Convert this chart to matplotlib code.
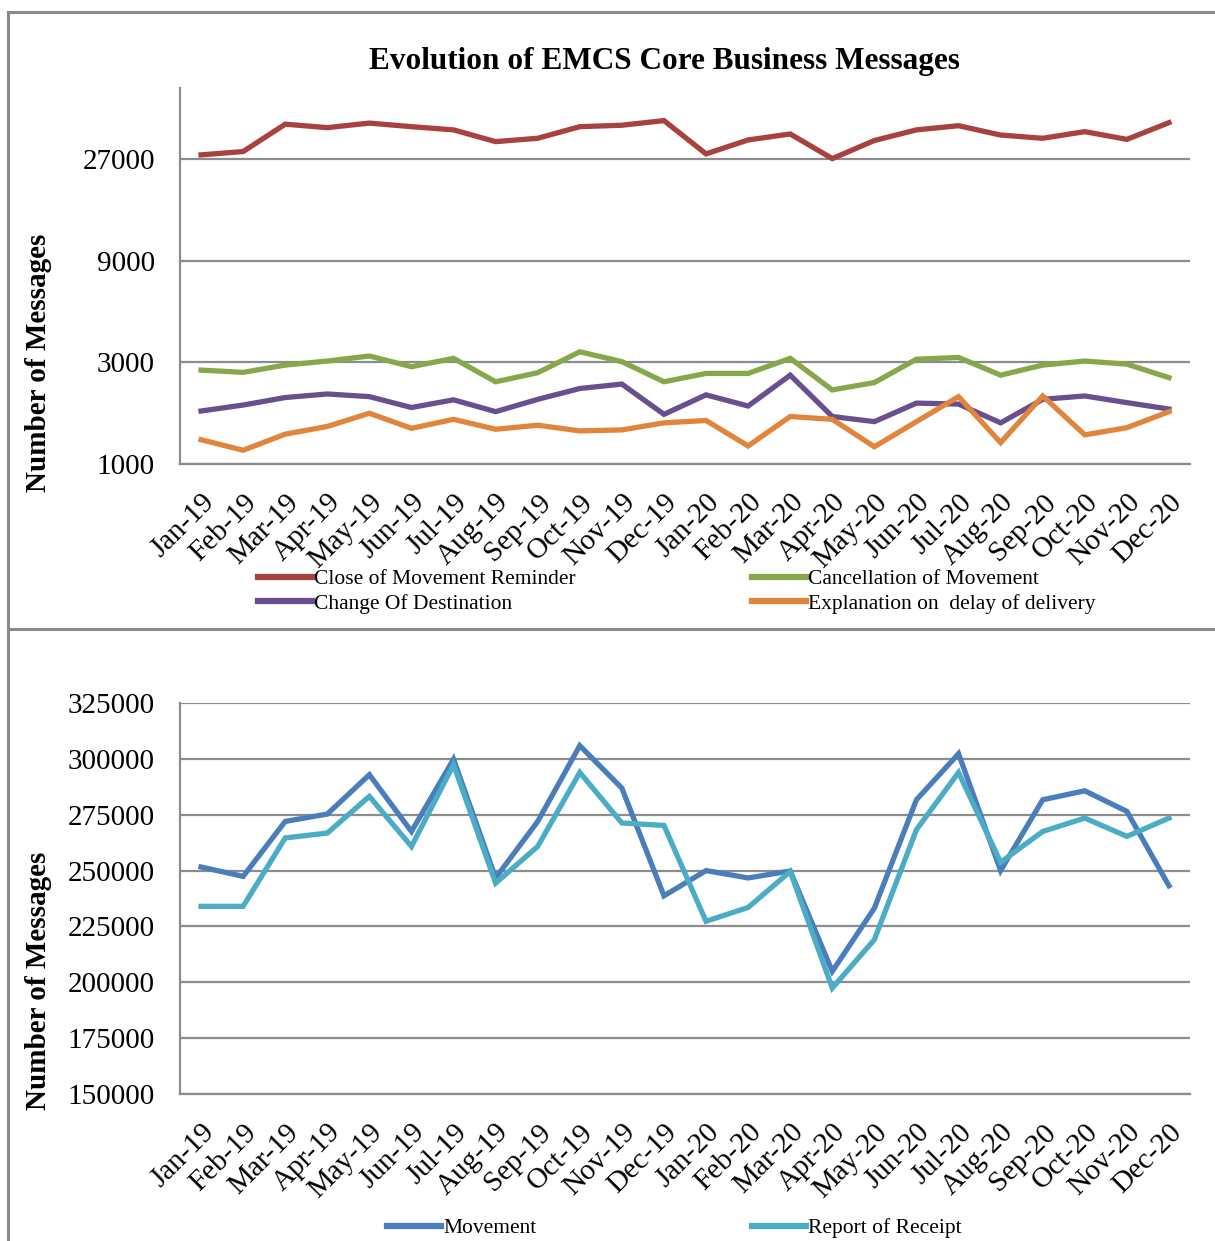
import matplotlib
matplotlib.use("Agg")
import matplotlib.pyplot as plt
from matplotlib.lines import Line2D
from matplotlib.ticker import FixedLocator, FixedFormatter, NullLocator

plt.rcParams['font.family'] = ['Liberation Serif', 'DejaVu Serif']

months = ["Jan-19", "Feb-19", "Mar-19", "Apr-19", "May-19", "Jun-19", "Jul-19", "Aug-19",
          "Sep-19", "Oct-19", "Nov-19", "Dec-19", "Jan-20", "Feb-20", "Mar-20", "Apr-20",
          "May-20", "Jun-20", "Jul-20", "Aug-20", "Sep-20", "Oct-20", "Nov-20", "Dec-20"]

close_reminder = [28170, 29200, 39240, 37800, 39700, 38200, 36900, 32500, 33700, 38200, 38800, 40800,
                  28470, 33100, 35300, 27060, 32900, 36900, 38600, 34900, 33700, 36200, 33300, 39900]
cancellation = [2757, 2690, 2910, 3040, 3210, 2860, 3130, 2430, 2680, 3360, 3020, 2430,
                2660, 2660, 3130, 2225, 2410, 3100, 3160, 2610, 2910, 3040, 2940, 2540]
change_dest = [1772, 1890, 2050, 2130, 2070, 1840, 2000, 1760, 2010, 2260, 2370, 1710,
               2110, 1870, 2610, 1670, 1580, 1930, 1910, 1560, 2010, 2085, 1940, 1810]
explanation = [1300, 1160, 1380, 1500, 1730, 1470, 1620, 1455, 1520, 1430, 1445, 1560,
               1600, 1215, 1670, 1620, 1205, 1580, 2070, 1260, 2085, 1370, 1480, 1760]

movement = [251600, 247400, 272000, 275300, 292900, 267500, 299800, 246700, 272000, 305900, 286900, 238700,
            250000, 246700, 249800, 204900, 233200, 281700, 302300, 250000, 281700, 285700, 276500, 243200]
report_receipt = [234000, 234000, 264600, 266800, 283200, 260800, 297400, 244400, 260800, 293900, 271300, 270200,
                  227300, 233500, 249600, 197400, 219100, 268300, 293900, 253700, 267500, 273500, 265300, 273500]

top_ticks = [1000, 3000, 9000, 27000]
top_tick_labels = ["1000", "3000", "9000", "27000"]
bottom_ticks = [150000, 175000, 200000, 225000, 250000, 275000, 300000, 325000]
bottom_tick_labels = [str(v) for v in bottom_ticks]

W, H = 1215, 1241
fig = plt.figure(figsize=(W / 100, H / 100), dpi=100)
fig.patch.set_facecolor("white")

GRID = "#8C8C8C"
TICK_FS = 21
XTICK_FS = 21
LEG_FS = 15.5

def px_axes(left, top, right, bottom):
    return fig.add_axes([left / W, 1 - bottom / H, (right - left) / W, (bottom - top) / H])

def style(ax):
    for s in ["top", "right"]:
        ax.spines[s].set_visible(False)
    for s in ["left", "bottom"]:
        ax.spines[s].set_color(GRID)
        ax.spines[s].set_linewidth(1.6)
    ax.grid(axis="y", color=GRID, linewidth=1.6)
    ax.set_axisbelow(True)
    ax.set_xlim(-0.5, len(months) - 0.5)
    ax.set_xticks(range(len(months)))
    ax.set_xticklabels(months, rotation=45, ha="right", va="top", rotation_mode="anchor",
                       fontsize=XTICK_FS)
    ax.tick_params(axis="x", length=0, pad=18)
    ax.tick_params(axis="y", length=0, pad=18, labelsize=TICK_FS)

# ---------- top chart ----------
ax1 = px_axes(180, 88, 1190, 464)
ax1.set_yscale("log", base=3)
ax1.set_ylim(1000, 58000)
ax1.yaxis.set_major_locator(FixedLocator(top_ticks))
ax1.yaxis.set_major_formatter(FixedFormatter(top_tick_labels))
ax1.yaxis.set_minor_locator(NullLocator())
style(ax1)
x = range(len(months))
lw = 3.8
c_red, c_green, c_purple, c_orange = "#A8423F", "#86A84A", "#6A4F8F", "#E0853B"
ax1.plot(x, close_reminder, color=c_red, lw=lw, solid_joinstyle="miter")
ax1.plot(x, cancellation, color=c_green, lw=lw, solid_joinstyle="miter")
ax1.plot(x, change_dest, color=c_purple, lw=lw, solid_joinstyle="miter")
ax1.plot(x, explanation, color=c_orange, lw=lw, solid_joinstyle="miter")

# ---------- bottom chart ----------
ax2 = px_axes(180, 703, 1190, 1094)
ax2.set_ylim(150000, 325000)
ax2.set_yticks(bottom_ticks)
ax2.set_yticklabels(bottom_tick_labels)
style(ax2)
c_blue, c_cyan = "#4A7EBB", "#4BACC6"
ax2.plot(x, movement, color=c_blue, lw=lw, solid_joinstyle="miter")
ax2.plot(x, report_receipt, color=c_cyan, lw=lw, solid_joinstyle="miter")

# ---------- text ----------
fig.text(664 / W, 1 - 61 / H, "Evolution of EMCS Core Business Messages", ha="center", va="center",
         fontsize=22.5, fontweight="bold")
fig.text(39 / W, 1 - 363 / H, "Number of Messages", rotation=90, ha="center", va="center",
         fontsize=21, fontweight="bold")
fig.text(39 / W, 1 - 981 / H, "Number of Messages", rotation=90, ha="center", va="center",
         fontsize=21, fontweight="bold")

# ---------- legends ----------
def leg(xpx, ypx, color, label):
    h = Line2D([0], [0], color=color, lw=4.5)
    fig.legend([h], [label], loc="center left", bbox_to_anchor=(xpx / W, 1 - ypx / H),
               frameon=False, borderpad=0, borderaxespad=0, handlelength=2.5,
               handletextpad=0.12, fontsize=LEG_FS)

leg(258, 579, c_red, "Close of Movement Reminder")
leg(752, 579, c_green, "Cancellation of Movement")
leg(258, 604, c_purple, "Change Of Destination")
leg(752, 604, c_orange, "Explanation on  delay of delivery")
leg(387, 1228, c_blue, "Movement")
leg(752, 1228, c_cyan, "Report of Receipt")

# ---------- panel borders ----------
BORDER = "#8A8A8A"
for (x0, y0, x1, y1) in [(8, 12, W, 12), (8, 12, 8, H), (8, 629, W, 629)]:
    fig.add_artist(Line2D([x0 / W, x1 / W], [1 - y0 / H, 1 - y1 / H], color=BORDER, lw=2.2,
                          transform=fig.transFigure))

fig.savefig("out.png", dpi=100, facecolor="white")
